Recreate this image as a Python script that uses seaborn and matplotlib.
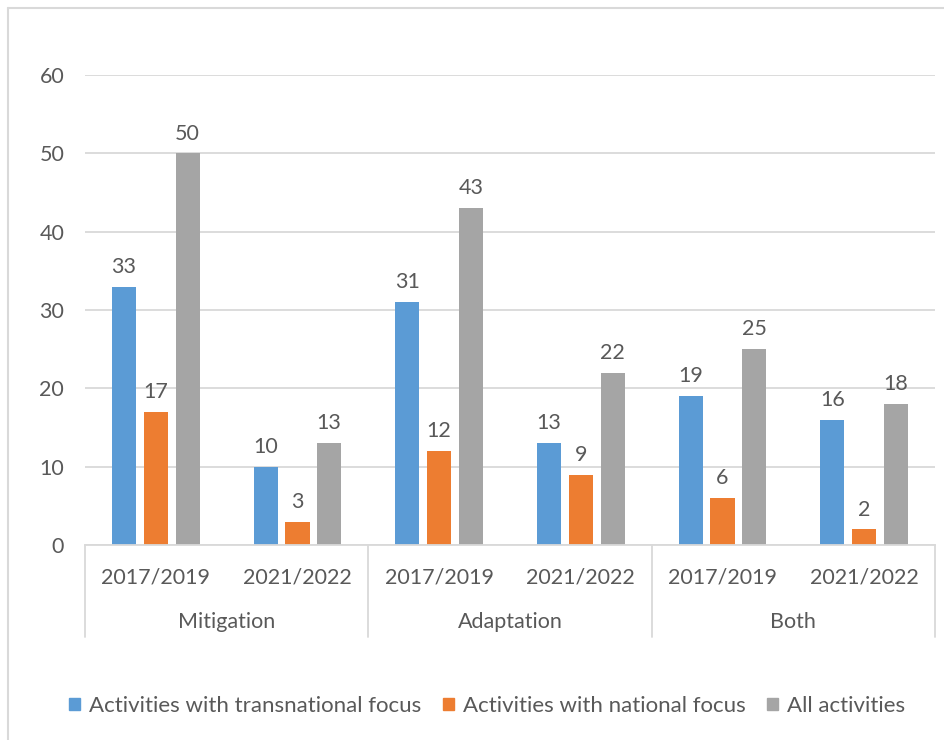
import matplotlib
matplotlib.use("Agg")
import matplotlib.pyplot as plt
from matplotlib.lines import Line2D
import seaborn as sns
import pandas as pd

groups = ["Mitigation", "Adaptation", "Both"]
periods = ["2017/2019", "2021/2022"]
series = ["Activities with transnational focus", "Activities with national focus", "All activities"]
transnational = [33, 10, 31, 13, 19, 16]
national = [17, 3, 12, 9, 6, 2]
all_activities = [50, 13, 43, 22, 25, 18]
yticks = [0, 10, 20, 30, 40, 50, 60]
colors = ["#5B9BD5", "#ED7D31", "#A5A5A5"]

cats = [f"{g}|{p}" for g in groups for p in periods]
rows = []
for s, vals in zip(series, [transnational, national, all_activities]):
    for c, v in zip(cats, vals):
        rows.append({"cat": c, "series": s, "value": v})
df = pd.DataFrame(rows)

sns.set_theme(style="white")
plt.rcParams["font.family"] = ["Lato", "DejaVu Sans"]
text_color = "#595959"
grid_color = "#D9D9D9"
fs = 15.5

W, H = 944, 740
fig = plt.figure(figsize=(W / 100, H / 100), dpi=100)
ax_l, ax_r, ax_t, ax_b = 85, 935, 75, 545
ax = fig.add_axes([ax_l / W, 1 - ax_b / H, (ax_r - ax_l) / W, (ax_b - ax_t) / H])

sns.barplot(data=df, x="cat", y="value", hue="series", order=cats, hue_order=series,
            palette=colors, width=0.672, gap=0.24, ax=ax, legend=False, saturation=1,
            linewidth=0)

ax.set_xlim(-0.5, len(cats) - 0.5)
ax.set_ylim(0, 60)
ax.set_yticks(yticks)
ax.set_yticklabels([str(t) for t in yticks], fontsize=fs, color=text_color)
ax.tick_params(axis="y", length=0, pad=15)
ax.set_xticks([])
ax.set_xlabel("")
ax.set_ylabel("")
for sp in ["top", "right", "left"]:
    ax.spines[sp].set_visible(False)
ax.spines["bottom"].set_color(grid_color)
ax.spines["bottom"].set_linewidth(1.3)
ax.yaxis.grid(True, color=grid_color, linewidth=1.3)
ax.set_axisbelow(True)

for cont in ax.containers:
    ax.bar_label(cont, padding=7, fontsize=fs, color=text_color)

trans = ax.get_xaxis_transform()
ah = ax_b - ax_t
y_sub = -(577 - ax_b) / ah
y_grp = -(622 - ax_b) / ah
y_sep = -(637 - ax_b) / ah
for i, c in enumerate(cats):
    ax.text(i, y_sub, c.split("|")[1], transform=trans, ha="center", va="center",
            fontsize=fs, color=text_color)
for gi, g in enumerate(groups):
    ax.text(gi * 2 + 0.5, y_grp, g, transform=trans, ha="center", va="center",
            fontsize=fs, color=text_color)
for k in range(len(groups) + 1):
    ax.add_line(Line2D([k * 2 - 0.5, k * 2 - 0.5], [0, y_sep], transform=trans,
                       color=grid_color, linewidth=1.3, clip_on=False))

handles = [plt.Rectangle((0, 0), 1, 1, color=c) for c in colors]
fig.legend(handles, series, loc="center", bbox_to_anchor=(487 / W, 1 - 706 / H), ncol=3,
           frameon=False, fontsize=16, labelcolor=text_color, handlelength=0.5,
           handleheight=0.5, handletextpad=0.4, columnspacing=0.95)

fig.add_artist(Line2D([8 / W, 8 / W], [0, 1 - 8 / H], transform=fig.transFigure,
                      color=grid_color, linewidth=1.5))
fig.add_artist(Line2D([8 / W, 1], [1 - 8 / H, 1 - 8 / H], transform=fig.transFigure,
                      color=grid_color, linewidth=1.5))

fig.savefig("out.png", dpi=100, facecolor="white")
